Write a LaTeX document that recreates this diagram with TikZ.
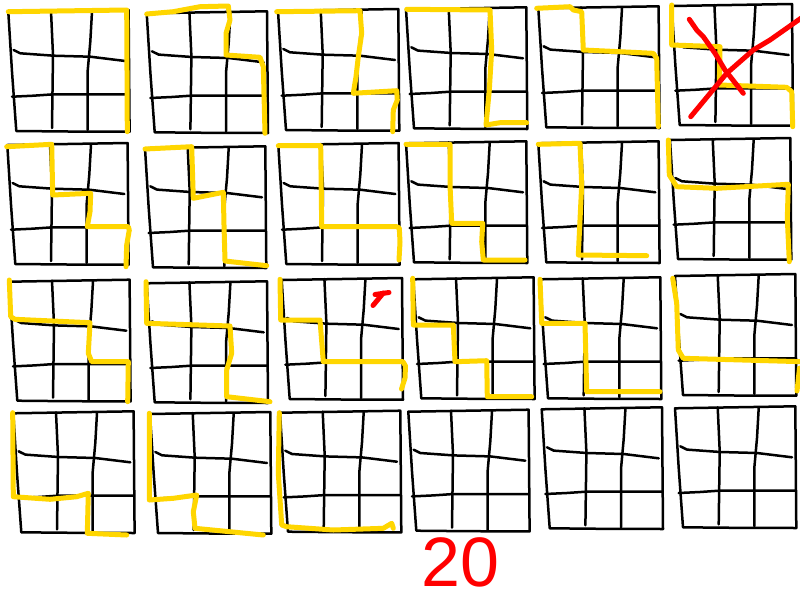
\documentclass[tikz,border=0pt]{standalone}
\usepackage{fontspec}
\setmainfont{Liberation Sans}
\definecolor{penyellow}{RGB}{255,214,0}
\definecolor{penred}{RGB}{255,0,0}
\tikzset{
  gridline/.style={draw=black, line width=2.5pt, line join=round, line cap=round},
  route/.style={draw=penyellow, line width=5pt, line join=round, line cap=round},
  cross/.style={draw=penred, line width=5pt, line join=round, line cap=round},
  handgrid/.pic={
    \draw[gridline] (0,0) -- (60,-1) -- (120.3,-2) -- (121.3,119.7) -- (60,119.5) -- (8,119) -- (3.7,59.7) -- cycle;
    \draw[gridline] (42.7,-1) -- (44.7,43) -- (43.7,116);
    \draw[gridline] (83.7,-0.3) -- (82,29.7) -- (79.3,59.7) -- (79.3,118);
    \draw[gridline] (5.3,38) -- (12,41.3) -- (45.3,43.7) -- (82,44.7) -- (117,49);
    \draw[gridline] (3.7,84.7) -- (25,83.7) -- (45.3,82.3) -- (120.3,82.3);
  }
}
\begin{document}
\begin{tikzpicture}[x=1pt,y=-1pt]
\useasboundingbox[fill=white] (0,0) rectangle (800,600);
% grids
\pic at (8.3,12) {handgrid};
\pic at (146.7,13.3) {handgrid};
\pic at (278,11) {handgrid};
\pic at (406,9.3) {handgrid};
\pic at (538.3,8.3) {handgrid};
\pic at (671.7,6) {handgrid};
\pic at (7.3,145) {handgrid};
\pic at (145,148.3) {handgrid};
\pic at (278.3,145) {handgrid};
\pic at (406,143.3) {handgrid};
\pic at (538.3,143.3) {handgrid};
\pic at (670,140) {handgrid};
\pic at (9.3,281.7) {handgrid};
\pic at (146.7,283.3) {handgrid};
\pic at (281.7,280) {handgrid};
\pic at (413.3,279.3) {handgrid};
\pic at (540,279.3) {handgrid};
\pic at (675,276) {handgrid};
\pic at (13.3,413.3) {handgrid};
\pic at (150,414) {handgrid};
\pic at (280,412.7) {handgrid};
\pic at (408.3,411.7) {handgrid};
\pic at (541.7,409.3) {handgrid};
\pic at (675,408.3) {handgrid};
% yellow routes, row 1
\draw[route] (8.3,11.7) -- (126.7,10) -- (127.3,131.7);
\draw[route] (146.7,14) -- (173.3,11.7) -- (200,6.7) -- (228.3,6) -- (230,20) -- (226,33.3) -- (226,55) -- (260,57.3) -- (263.3,66.7) -- (265,133.3);
\draw[route] (276.7,11.7) -- (360,10.7) -- (361.7,33.3) -- (358.3,56.7) -- (356,76.7) -- (353.3,93.3) -- (396.7,90.7) -- (397.3,100) -- (393.3,110) -- (392.7,131.7);
\draw[route] (406.7,9.3) -- (490,10) -- (491.7,50) -- (489.3,90) -- (486,125) -- (500,122.7) -- (526.7,122.7);
\draw[route] (536.7,8.3) -- (570,6.7) -- (573.3,10) -- (581.7,11.7) -- (583.3,50) -- (653.3,53.3) -- (656.7,58.3) -- (658.3,126.7);
\draw[route] (671.7,5) -- (671.7,45) -- (720,46.7) -- (719.3,85) -- (786.7,87.3) -- (791.7,91.7) -- (792.7,126.7);
% row 2
\draw[route] (6.7,146.7) -- (51.7,144.3) -- (52.7,195) -- (90.7,193.3) -- (90,211.7) -- (87.3,226.7) -- (128.3,226.7) -- (129.3,230) -- (126.7,245) -- (126,266.7);
\draw[route] (145,149) -- (191.7,146.7) -- (193.3,198.3) -- (223.3,192.3) -- (224,225) -- (225,261) -- (266.7,265.7);
\draw[route] (278.3,145.7) -- (320.7,145.7) -- (321.7,226.7) -- (396.7,226.7) -- (399.3,228) -- (400,242) -- (399,260);
\draw[route] (406,144.3) -- (450,144.3) -- (450,185) -- (451.7,223.3) -- (482.7,223.3) -- (481.7,241.7) -- (483.3,260) -- (525,260);
\draw[route] (538.3,144.3) -- (580,143.3) -- (581.7,185) -- (578.3,255) -- (646.7,255.7);
\draw[route] (668.3,140) -- (669.3,175) -- (676.7,186.7) -- (716.7,188.3) -- (788.3,184.3) -- (787.3,218.3) -- (789.3,261.7);
% row 3
\draw[route] (9.3,280) -- (10.7,316.7) -- (15,319.3) -- (90,322.7) -- (88.3,353.3) -- (91.7,361.7) -- (128.3,361.7) -- (127.7,401.7);
\draw[route] (146,281.7) -- (146.7,323.3) -- (230,326) -- (231.7,353.3) -- (226.7,370) -- (226.7,396.7) -- (270,401.7);
\draw[route] (280,279.3) -- (280.7,320) -- (320,320) -- (323.3,361.7) -- (403,361.7) -- (405.5,366) -- (405,378) -- (401.5,389);
\draw[route] (412.7,278.3) -- (413.3,325) -- (453.3,325) -- (455,361.7) -- (486.7,360.7) -- (487.3,396.7) -- (531.7,396.7);
\draw[route] (540,279.3) -- (541.7,323.3) -- (585,323.3) -- (586.7,391.7) -- (660,391.7);
\draw[route] (672.7,278.3) -- (676.7,303.3) -- (678.3,350) -- (683.3,358.3) -- (802,361.7);
\draw[route] (799.5,368) -- (797,391);
% row 4
\draw[route] (12.7,412.7) -- (13.3,496.7) -- (50,499.3) -- (76.7,496.7) -- (88.3,493.3) -- (87.3,533.3) -- (126.7,535);
\draw[route] (149.3,413.3) -- (149.3,500) -- (173.3,498.3) -- (196.7,495) -- (193.3,511.7) -- (195,528.3) -- (263.3,535);
\draw[route] (279.3,412.7) -- (278.3,473.3) -- (281.7,525) -- (286.7,526.7) -- (333.3,530) -- (383.3,528.3) -- (391.7,523.3) -- (393.3,528.3);
% red marks
\draw[cross] (689.3,19.3) -- (696.7,30) -- (703.3,36.7) -- (715,53.3) -- (725,70) -- (743.3,93.3);
\draw[cross] (690.7,116.7) -- (726.7,73.3) -- (753.3,50) -- (770,40) -- (802,17.5);
\draw[cross] (373,305.5) -- (383.3,293);
\draw[cross] (375,294.5) -- (389,292.5);
\node[anchor=base west, text=penred, inner sep=0pt, font=\fontsize{70}{70}\selectfont] (score) at (421,586) {20};
\end{tikzpicture}
\end{document}
